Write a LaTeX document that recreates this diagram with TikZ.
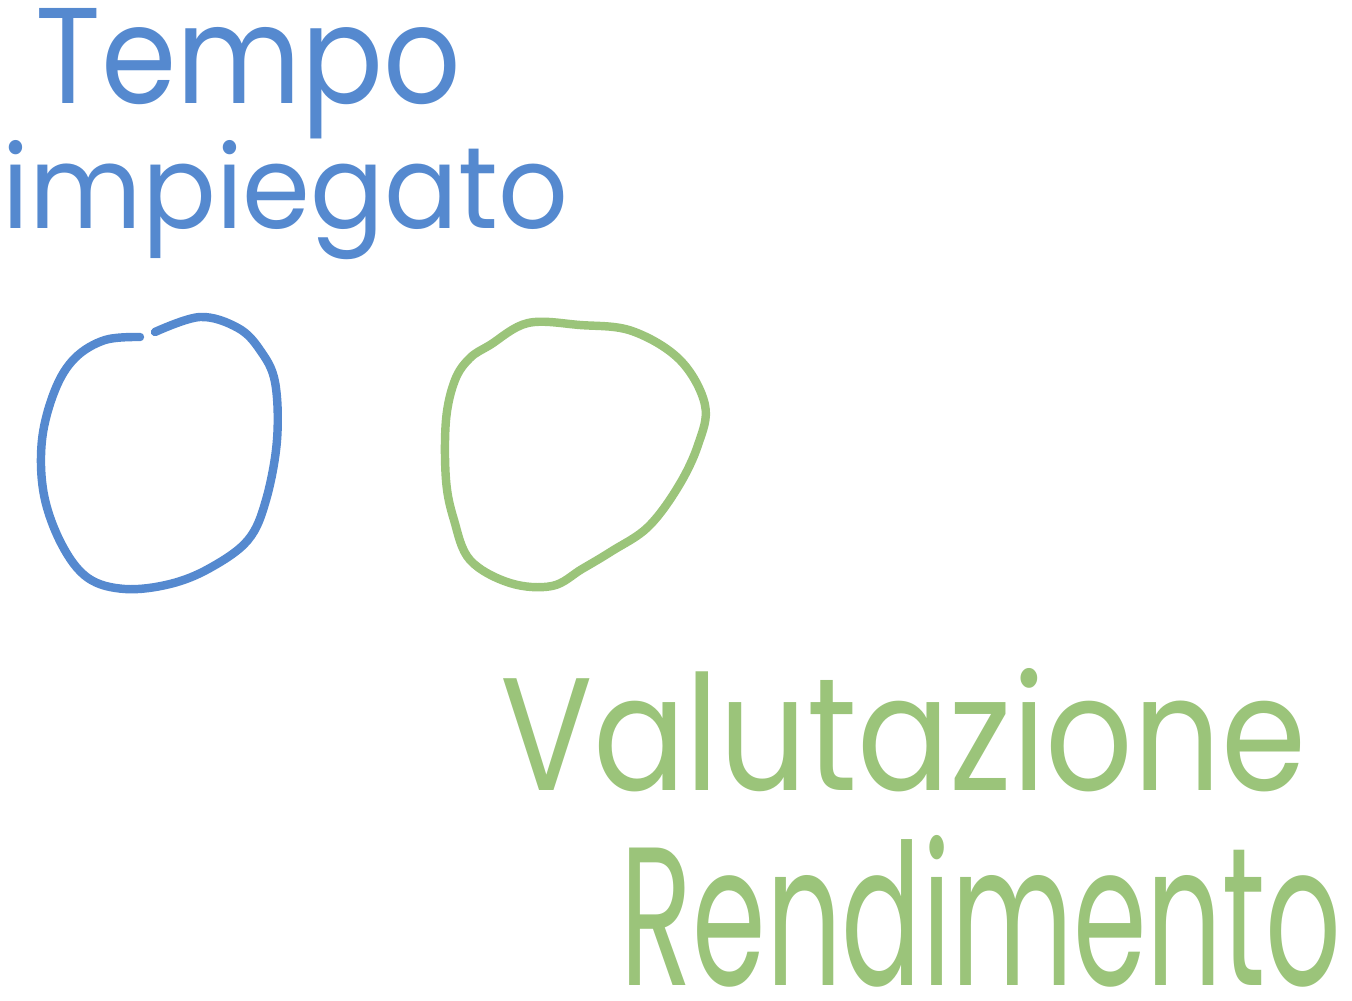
\documentclass[tikz,border=0pt]{standalone}
\usepackage{graphicx}
\usepackage{fontspec}
\setmainfont{Poppins}
\definecolor{inkblue}{HTML}{5589CF}
\definecolor{inkgreen}{HTML}{9BC47A}
\tikzset{
  blob/.style={line width=2.4pt,line cap=round,line join=round},
  word/.style={anchor=north west,inner sep=0pt}
}
\begin{document}
\begin{tikzpicture}[x=0.01cm,y=-0.01cm]
  \useasboundingbox (0,0) rectangle (1352,1000);
  % left: time spent
  \node[word,inkblue] (tempo) at (35,8) {\resizebox{4.25cm}{0.95cm}{Tempo}};
  \node[word,inkblue] (impiegato) at (2,140) {\resizebox{5.65cm}{0.88cm}{impiegato}};
  \draw[blob,inkblue] plot[smooth,tension=0.6] coordinates {
    (155,332) (200,317) (238,328) (260,350) (275,382) (277,440) (266,500)
    (248,540) (210,568) (170,584) (125,589) (88,578) (62,545) (44,495)
    (42,440) (55,390) (75,358) (105,340) (140,337)};
  % right: performance review
  \draw[blob,inkgreen] plot[smooth cycle,tension=0.6] coordinates {
    (490,345) (528,323) (580,325) (632,331) (680,360) (705,405) (698,445)
    (678,487) (648,527) (612,551) (582,569) (552,586) (510,583) (470,560)
    (454,520) (446,480) (446,420) (455,380) (470,358)};
  \node[word,inkgreen] (valutazione) at (500,668) {\resizebox{8.05cm}{1.22cm}{Valutazione}};
  \node[word,inkgreen] (rendimento) at (620,835) {\resizebox{7.2cm}{1.5cm}{Rendimento}};
\end{tikzpicture}
\end{document}
